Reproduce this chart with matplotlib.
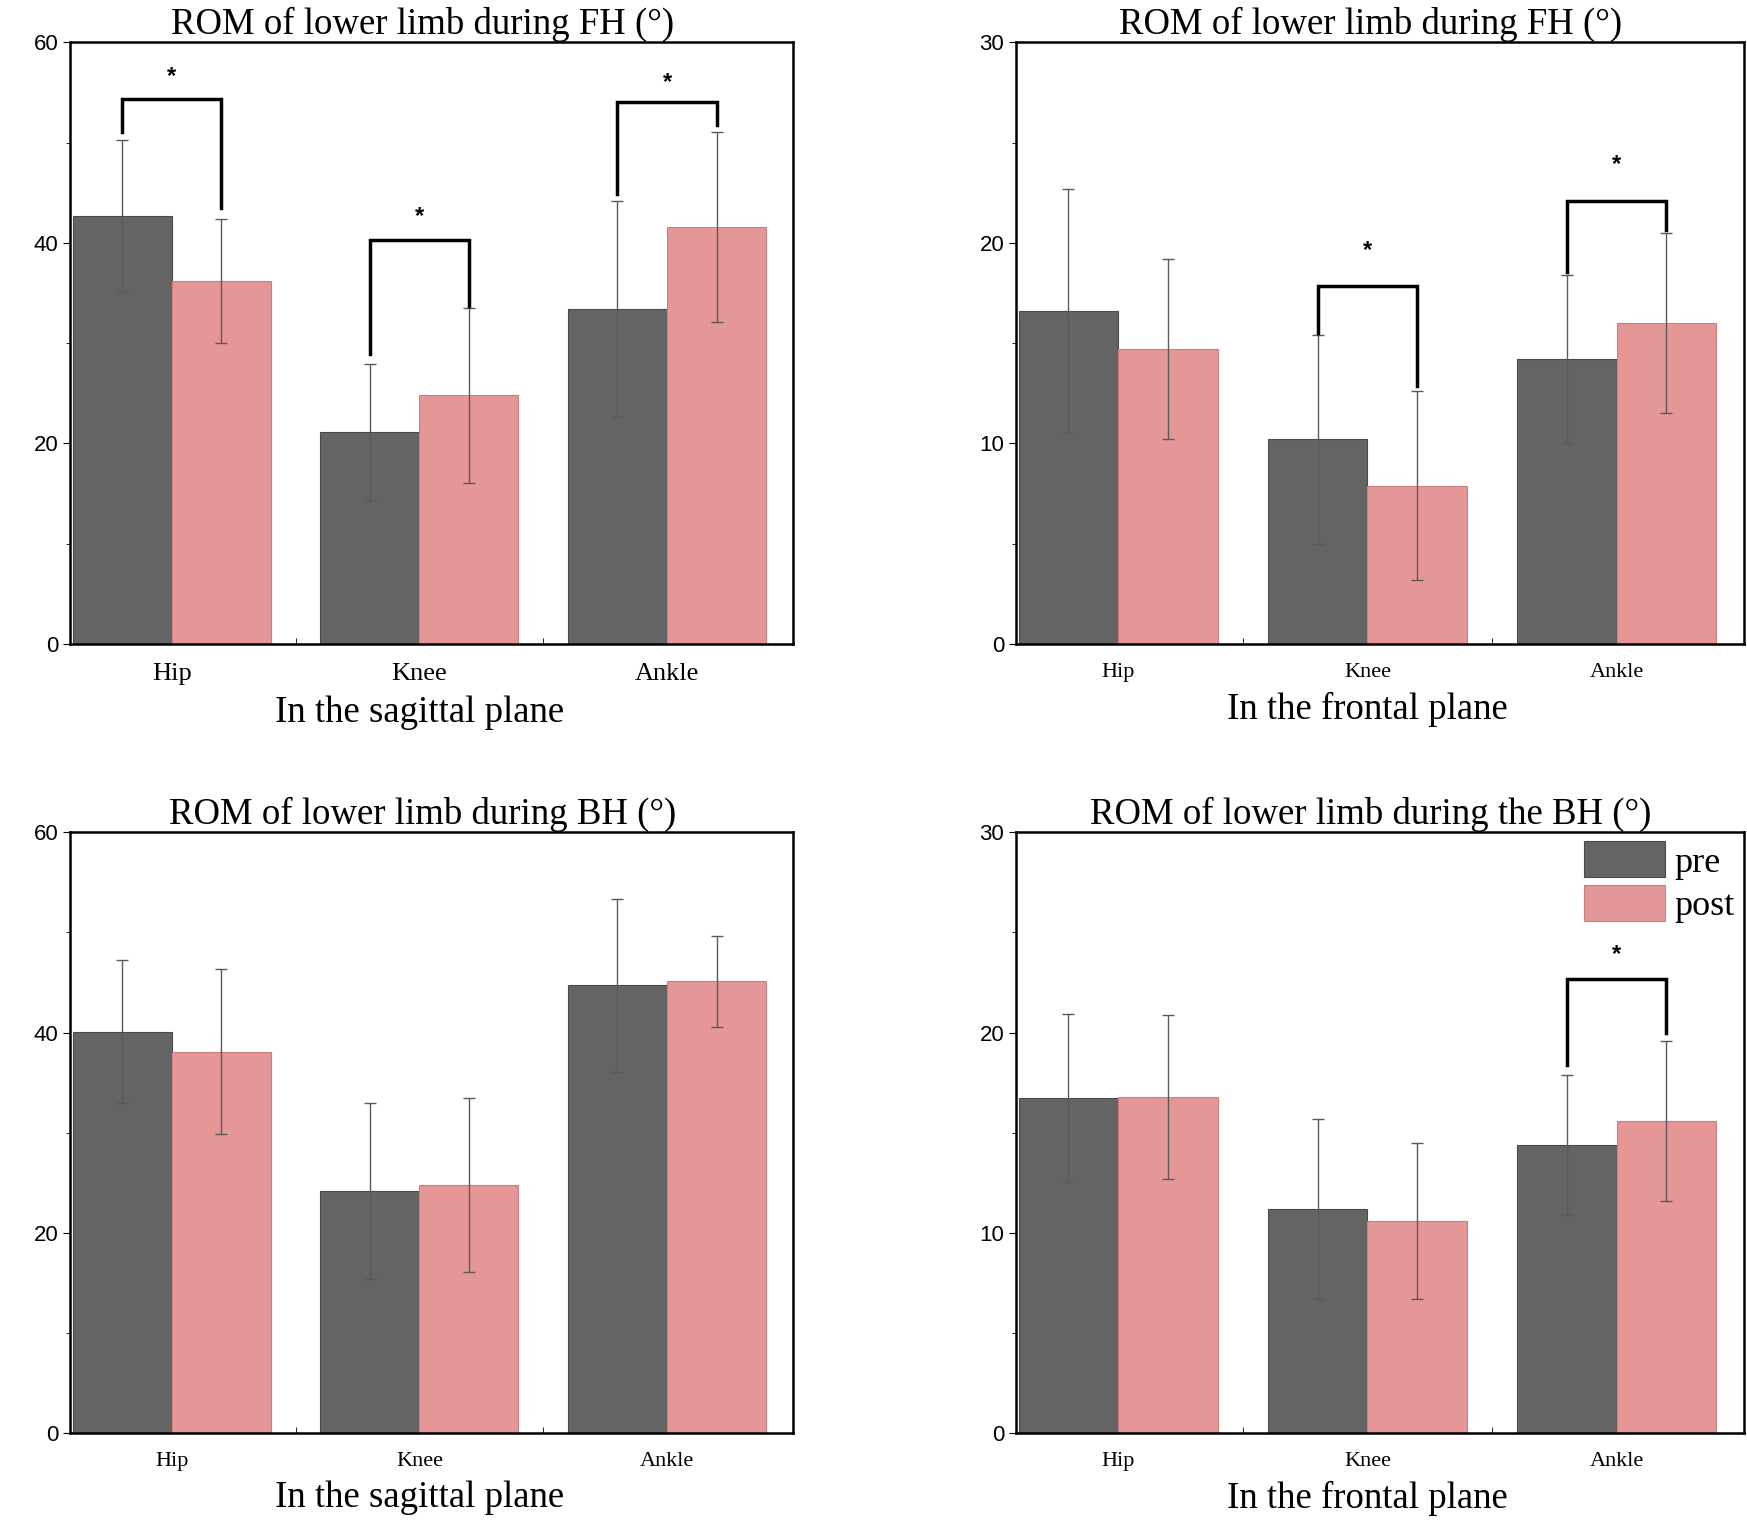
import matplotlib
matplotlib.use("Agg")
import matplotlib.pyplot as plt
import numpy as np

joints = ["Hip", "Knee", "Ankle"]

# panel data: mean and sd, pre / post
fh_sag_pre = [42.7, 21.1, 33.4]
fh_sag_pre_sd = [7.6, 6.8, 10.8]
fh_sag_post = [36.2, 24.8, 41.6]
fh_sag_post_sd = [6.2, 8.7, 9.5]

fh_fro_pre = [16.6, 10.2, 14.2]
fh_fro_pre_sd = [6.1, 5.2, 4.2]
fh_fro_post = [14.7, 7.9, 16.0]
fh_fro_post_sd = [4.5, 4.7, 4.5]

bh_sag_pre = [40.1, 24.2, 44.7]
bh_sag_pre_sd = [7.1, 8.8, 8.6]
bh_sag_post = [38.1, 24.8, 45.1]
bh_sag_post_sd = [8.2, 8.7, 4.5]

bh_fro_pre = [16.75, 11.2, 14.4]
bh_fro_pre_sd = [4.2, 4.5, 3.5]
bh_fro_post = [16.8, 10.6, 15.6]
bh_fro_post_sd = [4.1, 3.9, 4.0]

# significance brackets: (joint index, bracket y, left leg end, right leg end, star y)
fh_sag_sig = [(0, 54.3, 51.1, 43.5, 56.6), (1, 40.3, 28.9, 33.7, 42.6), (2, 54.0, 44.9, 51.8, 56.0)]
fh_fro_sig = [(1, 17.84, 15.5, 12.86, 19.6), (2, 22.07, 18.57, 20.63, 23.9)]
bh_sag_sig = []
bh_fro_sig = [(2, 22.66, 18.36, 19.99, 23.9)]

titles = ["ROM of lower limb during FH (°)", "ROM of lower limb during FH (°)",
          "ROM of lower limb during BH (°)", "ROM of lower limb during the BH (°)"]
xlabels = ["In the sagittal plane", "In the frontal plane",
           "In the sagittal plane", "In the frontal plane"]

PRE_C = "#646464"
POST_C = "#e59697"
serif = "Liberation Serif"
sans = "Liberation Sans"

fig = plt.figure(figsize=(17.47, 15.22), dpi=100)
rects = [[0.0402, 0.5769, 0.4139, 0.3953],
         [0.5816, 0.5769, 0.4165, 0.3953],
         [0.0402, 0.0586, 0.4139, 0.3945],
         [0.5816, 0.0586, 0.4165, 0.3945]]

panels = [
    (fh_sag_pre, fh_sag_pre_sd, fh_sag_post, fh_sag_post_sd, fh_sag_sig, 60),
    (fh_fro_pre, fh_fro_pre_sd, fh_fro_post, fh_fro_post_sd, fh_fro_sig, 30),
    (bh_sag_pre, bh_sag_pre_sd, bh_sag_post, bh_sag_post_sd, bh_sag_sig, 60),
    (bh_fro_pre, bh_fro_pre_sd, bh_fro_post, bh_fro_post_sd, bh_fro_sig, 30),
]

x = np.arange(len(joints))
w = 0.4
x0, x1 = -0.41, 2.51
mid = (1 - x0) / (x1 - x0)  # centre of the middle group, axes fraction
for i, (pre, pre_sd, post, post_sd, sig, ymax) in enumerate(panels):
    ax = fig.add_axes(rects[i])
    ekw = dict(ecolor="#5a5a5a", elinewidth=1.0, capsize=4, capthick=1.0)
    ax.bar(x - w / 2, pre, w, yerr=pre_sd, color=PRE_C, edgecolor="#4a4a4a",
           linewidth=0.8, error_kw=ekw, label="pre")
    ax.bar(x + w / 2, post, w, yerr=post_sd, color=POST_C, edgecolor="#c98080",
           linewidth=0.8, error_kw=ekw, label="post")
    for j, yb, yl, yr, ys in sig:
        ax.plot([j - w / 2, j - w / 2, j + w / 2, j + w / 2], [yl, yb, yb, yr],
                color="black", lw=2.5, solid_joinstyle="miter")
        ax.text(j, ys, "*", ha="center", va="center", fontsize=17, fontfamily=sans,
                fontweight="bold")
    ax.set_xlim(x0, x1)
    ax.set_ylim(0, ymax)
    ax.set_yticks(np.arange(0, ymax + 1, ymax // 3))
    ax.set_yticks(np.arange(ymax // 6, ymax, ymax // 3), minor=True)
    ax.set_xticks(x)
    ax.set_xticks([0.5, 1.5], minor=True)
    ax.tick_params(axis="x", which="major", length=0, pad=14)
    ax.tick_params(axis="x", which="minor", length=4, direction="in")
    ax.tick_params(axis="y", which="major", length=5, direction="out", labelsize=16)
    ax.tick_params(axis="y", which="minor", length=3, direction="out")
    ax.set_xticklabels(joints, fontfamily=serif, fontsize=19 if i == 0 else 16)
    for lab in ax.get_yticklabels():
        lab.set_fontfamily(sans)
    for sp in ax.spines.values():
        sp.set_linewidth(1.8)
    ax.set_title(titles[i], fontfamily=serif, fontsize=26.5, pad=6, x=mid + 0.005)
    ax.set_xlabel(xlabels[i], fontfamily=serif, fontsize=26.5, labelpad=7, x=mid)
    if i == 3:
        ax.legend(loc="upper right", frameon=False, prop={"family": serif, "size": 26},
                  handlelength=2.25, handleheight=1.15, handletextpad=0.25,
                  labelspacing=0.15, borderaxespad=0.15, borderpad=0.1)

fig.savefig("out.png", dpi=100)
